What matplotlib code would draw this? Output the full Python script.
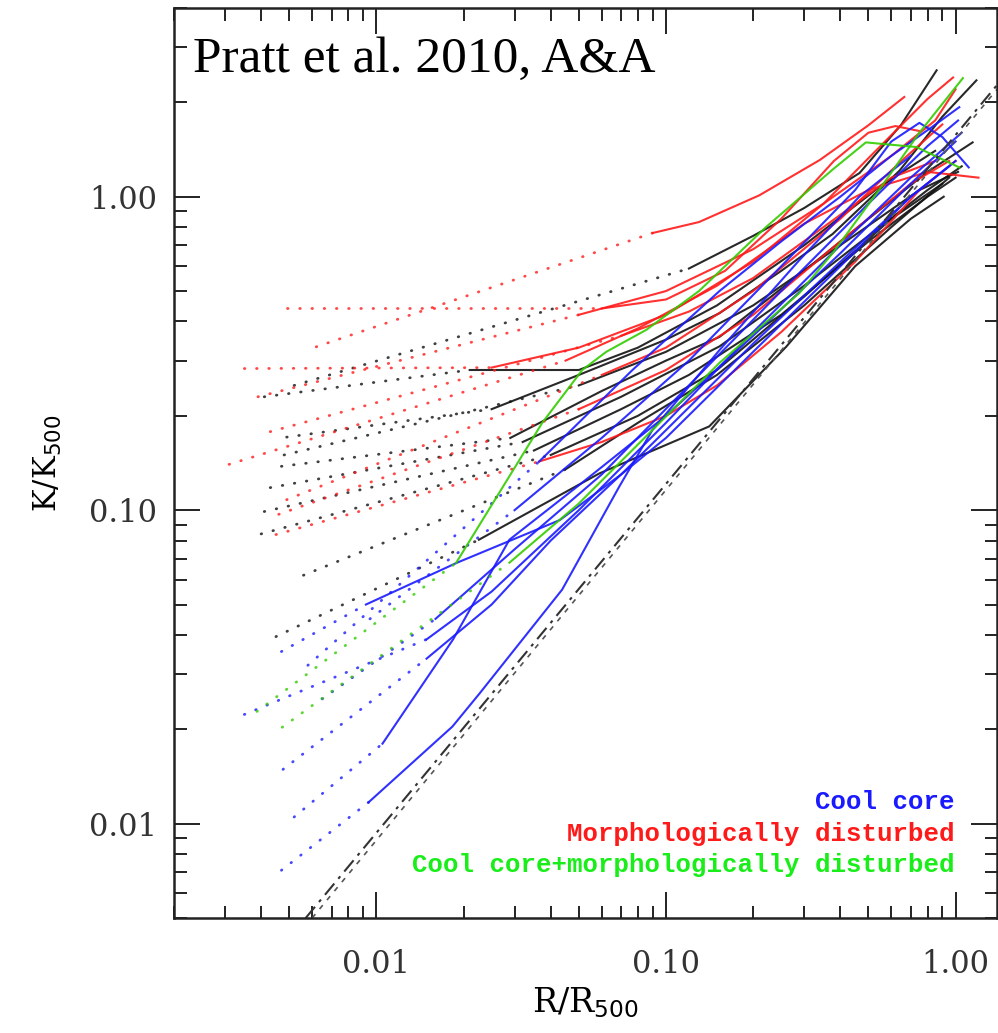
import matplotlib.pyplot as plt
from matplotlib.ticker import FixedLocator, NullFormatter

# each profile: dotted (extrapolated) part, then measured part, as (R/R500, K/K500)
black_profiles = [
    ([(0.0041, 0.23), (0.021, 0.28)],
     [(0.021, 0.28), (0.05, 0.28), (0.08, 0.33), (0.15, 0.45), (0.3, 0.7), (0.55, 1.08), (0.85, 1.4)]),
    ([(0.0049, 0.171), (0.025, 0.21)],
     [(0.025, 0.21), (0.05, 0.27), (0.1, 0.35), (0.153, 0.425), (0.25, 0.58), (0.376, 0.76), (0.64, 1.21), (0.9, 1.8), (1.18, 2.35)]),
    ([(0.0047, 0.138), (0.029, 0.17)],
     [(0.029, 0.17), (0.06, 0.24), (0.1, 0.3), (0.153, 0.357), (0.3, 0.58), (0.5, 0.85), (0.8, 1.2), (1.145, 1.49)]),
    ([(0.0043, 0.118), (0.032, 0.165)],
     [(0.032, 0.165), (0.07, 0.23), (0.153, 0.333), (0.3, 0.52), (0.5, 0.75), (0.8, 1.05), (1.05, 1.25)]),
    ([(0.0041, 0.099), (0.035, 0.155)],
     [(0.035, 0.155), (0.07, 0.21), (0.12, 0.27), (0.25, 0.42), (0.5, 0.72), (0.8, 1.0), (1.0, 1.15)]),
    ([(0.0040, 0.084), (0.04, 0.15)],
     [(0.04, 0.15), (0.08, 0.2), (0.15, 0.28), (0.3, 0.48), (0.6, 0.85), (0.9, 1.1)]),
    ([(0.0045, 0.0395), (0.0226, 0.0805)],
     [(0.0226, 0.0805), (0.0589, 0.131), (0.141, 0.185), (0.26, 0.332), (0.45, 0.6), (0.7, 0.85), (0.91, 1.0)]),
    ([(0.0056, 0.062), (0.045, 0.135)],
     [(0.045, 0.135), (0.08, 0.19), (0.15, 0.27), (0.3, 0.45), (0.6, 0.8), (0.95, 1.15)]),
    ([(0.0052, 0.25), (0.12, 0.59)],
     [(0.12, 0.59), (0.2, 0.75), (0.3, 0.92), (0.466, 1.19), (0.65, 1.7), (0.86, 2.53)]),
    ([(0.0048, 0.15), (0.05, 0.25)],
     [(0.05, 0.25), (0.1, 0.32), (0.2, 0.45), (0.4, 0.7), (0.75, 1.05), (1.02, 1.2)]),
]

red_profiles = [
    ([(0.0062, 0.332), (0.09, 0.766)],
     [(0.09, 0.766), (0.13, 0.83), (0.21, 1.01), (0.34, 1.31), (0.5, 1.69), (0.665, 2.08)]),
    ([(0.0049, 0.44), (0.06, 0.44)],
     [(0.06, 0.44), (0.1, 0.47), (0.16, 0.58), (0.25, 0.85), (0.38, 1.3), (0.5, 1.6), (0.62, 1.68), (0.75, 1.62)]),
    ([(0.0035, 0.283), (0.025, 0.285)],
     [(0.025, 0.285), (0.05, 0.33), (0.1, 0.42), (0.2, 0.62), (0.35, 0.95), (0.55, 1.45), (0.8, 2.05), (0.98, 2.4)]),
    ([(0.0031, 0.14), (0.045, 0.30)],
     [(0.045, 0.30), (0.08, 0.38), (0.15, 0.52), (0.3, 0.82), (0.5, 1.05), (0.8, 1.2), (1.2, 1.15)]),
    ([(0.0039, 0.23), (0.05, 0.42)],
     [(0.05, 0.42), (0.1, 0.5), (0.2, 0.68), (0.35, 0.95), (0.6, 1.35), (0.85, 1.75), (1.0, 2.2)]),
    ([(0.0045, 0.0836), (0.0365, 0.143)],
     [(0.0365, 0.143), (0.06, 0.165), (0.1, 0.2), (0.15, 0.25), (0.25, 0.37), (0.45, 0.62), (0.75, 1.05), (1.0, 1.3)]),
    ([(0.0046, 0.097), (0.05, 0.21)],
     [(0.05, 0.21), (0.1, 0.28), (0.2, 0.42), (0.4, 0.72), (0.7, 1.1), (0.95, 1.3)]),
    ([(0.0049, 0.108), (0.06, 0.27)],
     [(0.06, 0.27), (0.1, 0.33), (0.2, 0.5), (0.4, 0.85), (0.65, 1.3), (0.9, 1.7)]),
    ([(0.0043, 0.178), (0.07, 0.36)],
     [(0.07, 0.36), (0.12, 0.43), (0.2, 0.55), (0.35, 0.8), (0.6, 1.15), (0.85, 1.3)]),
]

blue_profiles = [
    ([(0.0047, 0.0071), (0.0094, 0.0117)],
     [(0.0094, 0.0117), (0.0183, 0.0204), (0.0227, 0.026), (0.0438, 0.0558), (0.069, 0.119), (0.0897, 0.18),
      (0.153, 0.324), (0.289, 0.628), (0.465, 1.0), (0.7, 1.35)]),
    ([(0.0052, 0.0105), (0.0105, 0.018)],
     [(0.0105, 0.018), (0.0184, 0.0387), (0.0288, 0.0805), (0.05, 0.12), (0.1, 0.2), (0.2, 0.36), (0.4, 0.66), (0.7, 1.1), (1.0, 1.5)]),
    ([(0.00476, 0.0149), (0.0149, 0.0336)],
     [(0.0149, 0.0336), (0.025, 0.05), (0.04, 0.08), (0.07, 0.13), (0.1, 0.18), (0.2, 0.34), (0.4, 0.62), (0.7, 1.0), (1.0, 1.3)]),
    ([(0.0035, 0.0223), (0.0149, 0.0387)],
     [(0.0149, 0.0387), (0.025, 0.055), (0.05, 0.1), (0.1, 0.19), (0.2, 0.37), (0.4, 0.7), (0.7, 1.15), (1.05, 1.6)]),
    ([(0.0047, 0.0354), (0.0092, 0.05)],
     [(0.0092, 0.05), (0.019, 0.068), (0.043, 0.093), (0.07, 0.13), (0.1, 0.17), (0.2, 0.32), (0.4, 0.6), (0.7, 1.0), (0.95, 1.25)]),
    ([(0.0058, 0.032), (0.0365, 0.143)],
     [(0.0365, 0.143), (0.0766, 0.28), (0.153, 0.50), (0.25, 0.72), (0.4, 1.0), (0.6, 1.35), (0.83, 1.67), (1.03, 1.93)]),
    ([(0.0095, 0.045), (0.03, 0.1)],
     [(0.03, 0.1), (0.06, 0.17), (0.12, 0.3), (0.25, 0.6), (0.45, 1.05), (0.6, 1.5), (0.75, 1.72), (0.9, 1.55), (1.11, 1.24)]),
    ([(0.0065, 0.025), (0.016, 0.045)],
     [(0.016, 0.045), (0.03, 0.075), (0.06, 0.13), (0.12, 0.25), (0.25, 0.5), (0.5, 0.95), (0.8, 1.45), (1.02, 1.75)]),
]

green_profiles = [
    ([(0.00387, 0.0228), (0.01885, 0.0679)],
     [(0.01885, 0.0679), (0.0374, 0.19), (0.0514, 0.28), (0.0622, 0.32), (0.0855, 0.376), (0.13, 0.5),
      (0.2215, 0.8), (0.376, 1.22), (0.49, 1.49), (0.732, 1.44), (1.03, 1.24)]),
    ([(0.00473, 0.0203), (0.0288, 0.068)],
     [(0.0288, 0.068), (0.05, 0.105), (0.0897, 0.18), (0.153, 0.295), (0.289, 0.493), (0.376, 0.66),
      (0.544, 1.05), (0.75, 1.6), (1.06, 2.39)]),
]

# baseline entropy (gravitational heating), two close traces
base1_x = [0.0057, 1.39]
base1_y = [0.005, 2.27]
base2_x = [0.0060, 1.39]
base2_y = [0.005, 2.20]

legend_labels = ['Cool core', 'Morphologically disturbed', 'Cool core+morphologically disturbed']
legend_colors = ['#1a1aff', '#ff1a1a', '#1aee1a']

fig = plt.figure(figsize=(9.98, 10.33), dpi=100)
ax = fig.add_axes([0.1743, 0.1113, 0.8247, 0.881])


def draw(profiles, color):
    for dotted, solid in profiles:
        ax.plot([p[0] for p in dotted], [p[1] for p in dotted], color=color,
                ls=(0, (0.2, 4.2)), lw=2.0, alpha=0.8, dash_capstyle='round')
        ax.plot([p[0] for p in solid], [p[1] for p in solid], color=color, lw=1.5, alpha=0.9)


draw(black_profiles, '#111111')
draw(red_profiles, '#ff1a1a')
draw(blue_profiles, '#1a1aff')
draw(green_profiles, '#33cc00')

ax.plot(base1_x, base1_y, color='#333333', lw=1.5, ls=(0, (7, 3, 1.5, 3)))
ax.plot(base2_x, base2_y, color='#555555', lw=1.2, ls=(0, (3, 4)))

ax.set_xscale('log')
ax.set_yscale('log')
ax.set_xlim(0.002, 1.39)
ax.set_ylim(0.005, 4.0)

ax.xaxis.set_major_locator(FixedLocator([0.01, 0.1, 1.0]))
ax.yaxis.set_major_locator(FixedLocator([0.01, 0.1, 1.0]))
ax.set_xticklabels(['0.01', '0.10', '1.00'])
ax.set_yticklabels(['0.01', '0.10', '1.00'])
ax.xaxis.set_minor_formatter(NullFormatter())
ax.yaxis.set_minor_formatter(NullFormatter())

ax.tick_params(which='both', direction='in', top=True, right=True, width=1.4, color='#222222')
ax.tick_params(which='major', length=19)
ax.tick_params(which='minor', length=9)
ax.tick_params(axis='x', which='major', pad=22, labelsize=22, labelcolor='#333333')
ax.tick_params(axis='y', which='major', pad=12, labelsize=22, labelcolor='#333333')
for lab in ax.get_xticklabels() + ax.get_yticklabels():
    lab.set_family('DejaVu Serif')
for sp in ax.spines.values():
    sp.set_linewidth(1.8)
    sp.set_color('#222222')

ax.set_xlabel(r'R/R$_{500}$', family='DejaVu Serif', fontsize=24, labelpad=4)
ax.set_ylabel(r'K/K$_{500}$', family='DejaVu Serif', fontsize=22, labelpad=18)

ax.text(0.023, 0.9297, 'Pratt et al. 2010, A&A', transform=ax.transAxes,
        family='Liberation Serif', fontsize=37, va='baseline', ha='left')

for i, (lab, col) in enumerate(zip(legend_labels, legend_colors)):
    ax.text(0.948, 0.1198 - i * 0.0347, lab, transform=ax.transAxes, color=col,
            family='Liberation Mono', fontweight='bold', fontsize=18.5, ha='right', va='baseline')

fig.savefig('out.png', dpi=100)
